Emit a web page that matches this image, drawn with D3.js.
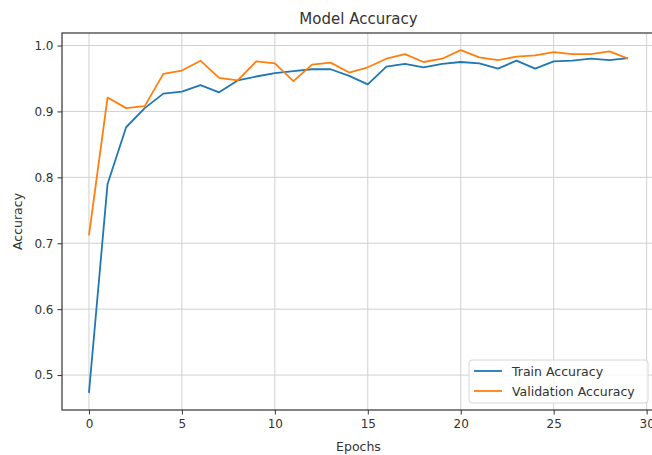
<!DOCTYPE html>
<html lang="en">
<head>
  <meta charset="UTF-8">
  <title>Model Accuracy</title>
  <script src='https://d3js.org/d3.v7.min.js'></script>
  <style>
    html, body {
      margin: 0;
      background-color: #ffffff;
      overflow: hidden;
      font-family: 'DejaVu Sans', sans-serif;
    }
  </style>
</head>

<body>
  <div id='chart'></div>

  <script type='text/javascript'>
    const epochs = d3.range(0, 30)

    const trainAccuracy = [
      0.473, 0.790, 0.876, 0.905, 0.927, 0.930, 0.940, 0.929, 0.947, 0.953,
      0.958, 0.961, 0.964, 0.964, 0.954, 0.941, 0.968, 0.972, 0.967, 0.972,
      0.975, 0.973, 0.965, 0.977, 0.965, 0.976, 0.977, 0.980, 0.978, 0.981,
    ]

    const valAccuracy = [
      0.712, 0.921, 0.905, 0.908, 0.957, 0.962, 0.977, 0.951, 0.947, 0.976,
      0.973, 0.946, 0.971, 0.974, 0.959, 0.967, 0.980, 0.987, 0.975, 0.980,
      0.993, 0.982, 0.978, 0.983, 0.985, 0.990, 0.987, 0.987, 0.991, 0.980,
    ]

    const xTicks = [0, 5, 10, 15, 20, 25, 30]
    const yTicks = [0.5, 0.6, 0.7, 0.8, 0.9, 1.0]

    const series = [
      { name: 'Train Accuracy', values: trainAccuracy, color: '#1f77b4' },
      { name: 'Validation Accuracy', values: valAccuracy, color: '#ff7f0e' },
    ]

    const width = 652
    const height = 455
    const margin = { top: 33, right: -3, bottom: 45, left: 62 }
    const plotW = width - margin.left - margin.right
    const plotH = height - margin.top - margin.bottom
    const textColor = '#333333'

    // matplotlib style 5% padding on both axes
    const pad = (lo, hi) => [lo - (hi - lo) * 0.05, hi + (hi - lo) * 0.05]
    const allValues = trainAccuracy.concat(valAccuracy)

    const x = d3.scaleLinear()
      .domain(pad(d3.min(epochs), d3.max(epochs)))
      .range([0, plotW])

    const y = d3.scaleLinear()
      .domain(pad(d3.min(allValues), d3.max(allValues)))
      .range([plotH, 0])

    const svg = d3.select('#chart').append('svg')
      .attr('width', width)
      .attr('height', height)
      .style('display', 'block')

    svg.append('defs').append('clipPath')
      .attr('id', 'plot-clip')
      .append('rect')
      .attr('width', plotW)
      .attr('height', plotH)

    const g = svg.append('g')
      .attr('transform', `translate(${margin.left},${margin.top})`)

    // grid
    g.append('g')
      .selectAll('line')
      .data(xTicks)
      .enter()
      .append('line')
      .attr('x1', d => x(d))
      .attr('x2', d => x(d))
      .attr('y1', 0)
      .attr('y2', plotH)
      .style('stroke', '#d0d0d0')
      .style('stroke-width', 1)

    g.append('g')
      .selectAll('line')
      .data(yTicks)
      .enter()
      .append('line')
      .attr('x1', 0)
      .attr('x2', plotW)
      .attr('y1', d => y(d))
      .attr('y2', d => y(d))
      .style('stroke', '#d0d0d0')
      .style('stroke-width', 1)

    // lines
    const line = d3.line()
      .x((d, i) => x(epochs[i]))
      .y(d => y(d))

    g.append('g')
      .attr('clip-path', 'url(#plot-clip)')
      .selectAll('path')
      .data(series)
      .enter()
      .append('path')
      .attr('d', d => line(d.values))
      .style('fill', 'none')
      .style('stroke', d => d.color)
      .style('stroke-width', 1.8)
      .style('stroke-linejoin', 'round')

    // axes
    const xAxis = g.append('g')
      .attr('transform', `translate(0,${plotH})`)
      .call(d3.axisBottom(x).tickValues(xTicks).tickSize(4.5).tickPadding(5).tickSizeOuter(0))

    const yAxis = g.append('g')
      .call(d3.axisLeft(y).tickValues(yTicks).tickFormat(d3.format('.1f')).tickSize(4.5).tickPadding(4).tickSizeOuter(0))

    ;[xAxis, yAxis].forEach(axis => {
      axis.select('.domain').remove()
      axis.selectAll('line').style('stroke', '#333333').style('stroke-width', 1)
      axis.selectAll('text')
        .style('font-family', "'DejaVu Sans', sans-serif")
        .style('font-size', '12px')
        .style('fill', textColor)
    })

    // frame
    g.append('rect')
      .attr('width', plotW)
      .attr('height', plotH)
      .style('fill', 'none')
      .style('stroke', '#333333')
      .style('stroke-width', 1.2)

    // labels
    svg.append('text')
      .text('Model Accuracy')
      .attr('x', margin.left + plotW / 2)
      .attr('y', 24)
      .style('text-anchor', 'middle')
      .style('font-size', '15px')
      .style('fill', textColor)

    svg.append('text')
      .text('Epochs')
      .attr('x', margin.left + plotW / 2)
      .attr('y', 451)
      .style('text-anchor', 'middle')
      .style('font-size', '12.5px')
      .style('fill', textColor)

    svg.append('text')
      .text('Accuracy')
      .attr('transform', `translate(22,${margin.top + plotH / 2}) rotate(-90)`)
      .style('text-anchor', 'middle')
      .style('font-size', '12.5px')
      .style('fill', textColor)

    // legend, lower right
    const legend = svg.append('g')
      .attr('transform', 'translate(469,360)')

    legend.append('rect')
      .attr('width', 179)
      .attr('height', 43)
      .attr('rx', 3)
      .style('fill', '#ffffff')
      .style('fill-opacity', 0.8)
      .style('stroke', '#d6d6d6')

    const item = legend.selectAll('.item')
      .data(series)
      .enter()
      .append('g')
      .attr('class', 'item')
      .attr('transform', (d, i) => `translate(0,${11 + i * 20})`)

    item.append('line')
      .attr('x1', 5)
      .attr('x2', 33)
      .style('stroke', d => d.color)
      .style('stroke-width', 1.8)

    item.append('text')
      .text(d => d.name)
      .attr('x', 43)
      .attr('y', 4.5)
      .style('font-size', '12.5px')
      .style('fill', textColor)
  </script>
</body>

</html>
